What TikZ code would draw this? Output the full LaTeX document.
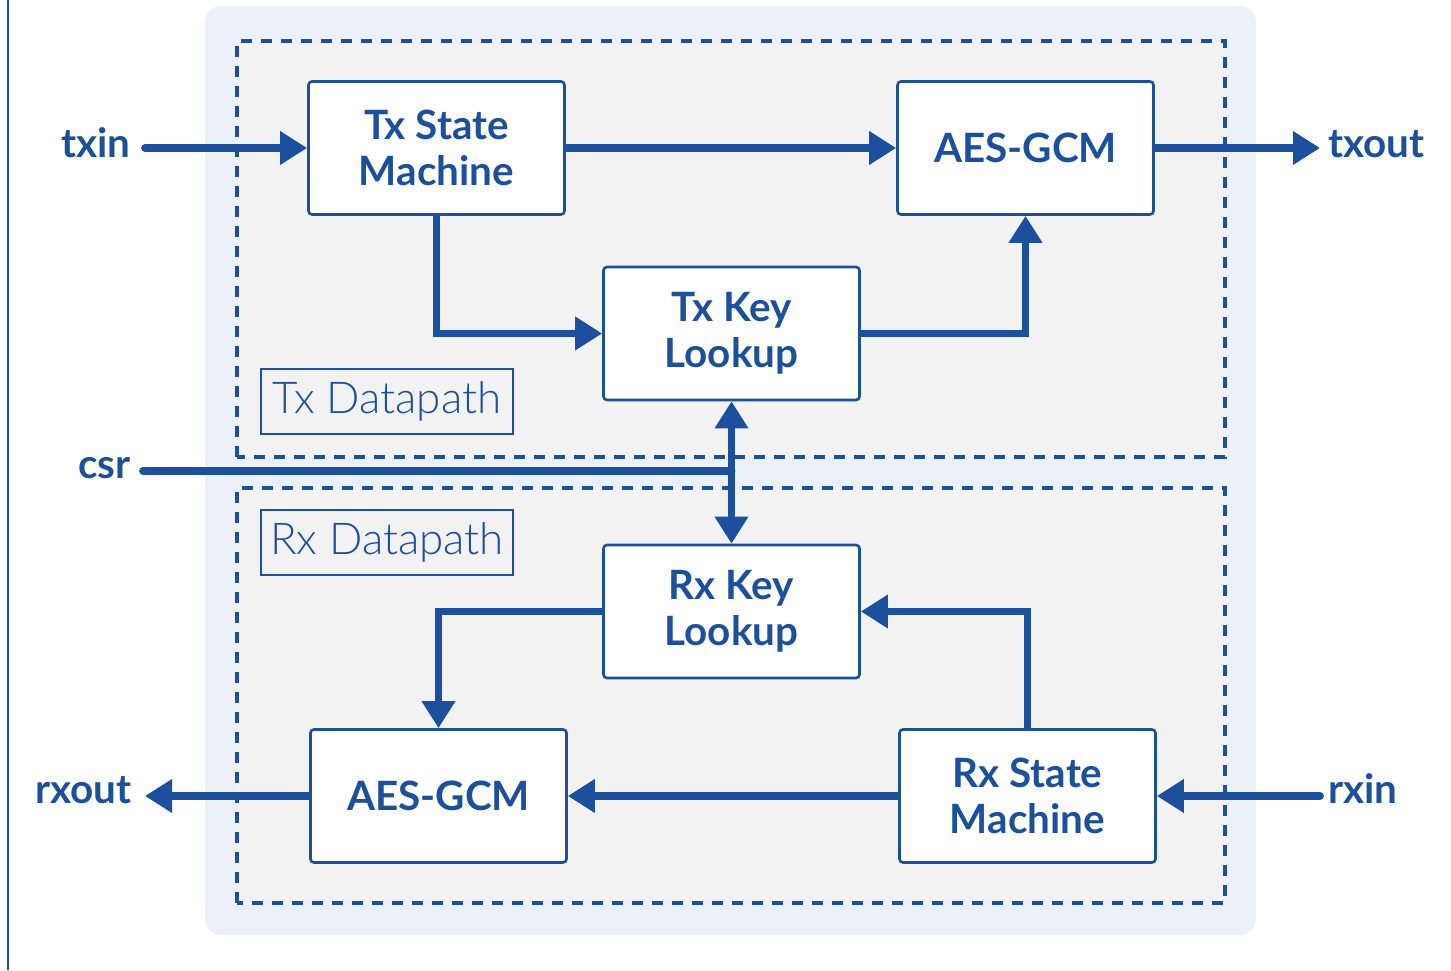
\documentclass[tikz,border=0pt]{standalone}
\usepackage{fontspec}
\setmainfont{Lato}
\newfontfamily\dpfont{Lato}[UprightFont=* Light]
\usetikzlibrary{arrows.meta, positioning, calc}
\definecolor{c1}{HTML}{1D4F9F}
\definecolor{bgcolor}{HTML}{ECF0F8}
\definecolor{regcolor}{HTML}{F2F2F2}

\begin{document}
\begin{tikzpicture}[
    every node/.style={font=\bfseries\fontsize{23}{26}\selectfont, text=c1},
    blk/.style={
        rectangle, rounded corners=2pt, minimum width=5.12cm,
        minimum height=2.66cm, line width=1.5pt,
        draw=c1, fill=white, align=center, inner sep=0pt,
    },
    region/.style={
        draw=c1, fill=regcolor, line width=1.8pt,
        dash pattern=on 0.22cm off 0.18cm,
    },
    dplab/.style={
        rectangle, draw=c1, line width=0.7pt, minimum width=5.04cm,
        minimum height=1.3cm, font=\dpfont\fontsize{25}{28}\selectfont,
    },
    io/.style={inner sep=0pt},
    arr/.style={-{Triangle[length=0.54cm, width=0.64cm]}, line width=4.4pt, color=c1},
]
\useasboundingbox (0,0) rectangle (29.02,19.4);

% ---------------------------------------------------------------- frame
\draw[c1, line width=1.5pt] (0.16,19.4) -- (0.16,0);
\fill[bgcolor, rounded corners=0.32cm] (4.10,0.70) rectangle (25.12,19.28);
\draw[region] (4.74,10.26) rectangle (24.50,18.58);
\draw[region] (4.74,1.34) rectangle (24.50,9.64);

\node[dplab] (txdp) at (7.74,11.37) {Tx Datapath};
\node[dplab] (rxdp) at (7.74,8.55) {Rx Datapath};

% ---------------------------------------------------------------- tx side
\node[blk] (txsm) at (8.73,16.44) {Tx State\\Machine};
\node[blk] (aestx) at (20.51,16.44) {AES-GCM};
\node[blk] (txkey) at (14.63,12.73) {Tx Key\\Lookup};

\node[io, anchor=base east] (txin) at (2.62,16.24) {txin};
\node[io, anchor=base west] (txout) at (26.56,16.24) {txout};

\draw[arr, line cap=round, shorten <=0.28cm] (txsm.west -| txin.east) -- (txsm.west);
\draw[arr] (txsm.east) -- (aestx.west);
\draw[arr, shorten >=0.16cm] (aestx.east) -- (aestx.east -| txout.west);
\draw[arr] (txsm.south) |- (txkey.west);
\draw[arr] (txkey.east) -| (aestx.south);

% ---------------------------------------------------------------- csr
\node[io, anchor=base east] (csr) at (2.62,9.82) {csr};
\coordinate (csrjoin) at (14.63,9.98);
\draw[c1, line width=4.4pt, line cap=round, shorten <=0.24cm] (csrjoin -| csr.east) -- (csrjoin);

% ---------------------------------------------------------------- rx side
\node[blk] (rxkey) at (14.63,7.17) {Rx Key\\Lookup};
\node[blk] (aesrx) at (8.77,3.48) {AES-GCM};
\node[blk] (rxsm) at (20.55,3.48) {Rx State\\Machine};

\node[io, anchor=base east] (rxout) at (2.64,3.34) {rxout};
\node[io, anchor=base west] (rxin) at (26.56,3.34) {rxin};

\draw[arr, {Triangle[length=0.54cm, width=0.64cm]}-{Triangle[length=0.54cm, width=0.64cm]}]
    (txkey.south) -- (rxkey.north);
\draw[arr] (rxkey.west) -| (aesrx.north);
\draw[arr] (rxsm.north) |- (rxkey.east);
\draw[arr] (rxsm.west) -- (aesrx.east);
\draw[arr, shorten >=0.26cm] (aesrx.west) -- (aesrx.west -| rxout.east);
\draw[arr, line cap=round, shorten <=0.16cm] (rxsm.east -| rxin.west) -- (rxsm.east);

\end{tikzpicture}
\end{document}
